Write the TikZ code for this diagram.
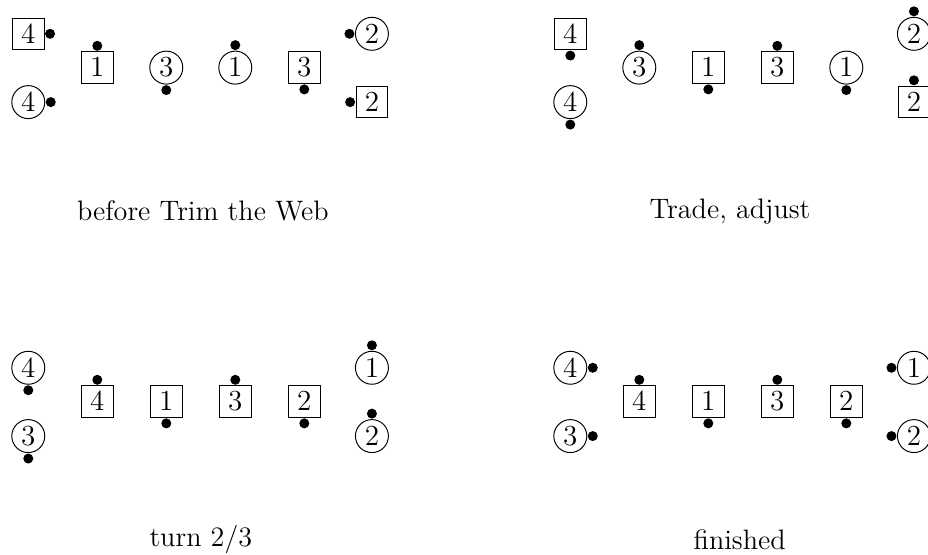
\documentclass[tikz,border=0pt]{standalone}
\usetikzlibrary{positioning}

\begin{document}
\begin{tikzpicture}[
    box/.style={draw, inner sep=0pt, minimum size=0.458cm, font=\fontsize{12.4}{14}\selectfont},
    ring/.style={draw, circle, inner sep=0pt, minimum size=0.478cm, font=\fontsize{12}{14}\selectfont},
    dot/.style={circle, fill, inner sep=0pt, minimum size=0.145cm},
    caption/.style={font=\fontsize{11.6}{14}\selectfont},
    node distance=0pt,
]
    \useasboundingbox (0,0) rectangle (13.449,-8.029);

    % Panel 1: before Trim the Web
    \begin{scope}[shift={(0.41,0)}]
        \node[box] (a4) at (0,-0.49) {$4$};
        \node[ring] (a4r) at (0,-1.48) {$4$};
        \node[box] (a1) at (1,-0.98) {$1$};
        \node[ring] (a3r) at (2,-0.98) {$3$};
        \node[ring] (a1r) at (3,-0.98) {$1$};
        \node[box] (a3) at (4,-0.98) {$3$};
        \node[ring] (a2r) at (4.98,-0.49) {$2$};
        \node[box] (a2) at (4.98,-1.48) {$2$};
        % dots
        \node[dot, right=of a4] (a4d) {};
        \node[dot, right=of a4r] (a4rd) {};
        \node[dot, above=of a1] (a1d) {};
        \node[dot, below=of a3r] (a3rd) {};
        \node[dot, above=of a1r] (a1rd) {};
        \node[dot, below=of a3] (a3d) {};
        \node[dot, left=of a2r] (a2rd) {};
        \node[dot, left=of a2] (a2d) {};
    \end{scope}
    \node[caption] (capa) at (2.94,-3.06) {before Trim the Web};

    % Panel 2: Trade, adjust
    \begin{scope}[shift={(8.265,0)}]
        \node[box] (b4) at (0,-0.49) {$4$};
        \node[ring] (b4r) at (0,-1.48) {$4$};
        \node[ring] (b3r) at (1,-0.98) {$3$};
        \node[box] (b1) at (2,-0.98) {$1$};
        \node[box] (b3) at (3,-0.98) {$3$};
        \node[ring] (b1r) at (4,-0.98) {$1$};
        \node[ring] (b2r) at (4.98,-0.49) {$2$};
        \node[box] (b2) at (4.98,-1.48) {$2$};
        % dots
        \node[dot, below=of b4] (b4d) {};
        \node[dot, below=of b4r] (b4rd) {};
        \node[dot, above=of b3r] (b3rd) {};
        \node[dot, below=of b1] (b1d) {};
        \node[dot, above=of b3] (b3d) {};
        \node[dot, below=of b1r] (b1rd) {};
        \node[dot, above=of b2r] (b2rd) {};
        \node[dot, above=of b2] (b2d) {};
    \end{scope}
    \node[caption] (capb) at (10.58,-3.06) {Trade, adjust};

    % Panel 3: turn 2/3
    \begin{scope}[shift={(0.41,-4.84)}]
        \node[ring] (c4r) at (0,-0.49) {$4$};
        \node[ring] (c3r) at (0,-1.48) {$3$};
        \node[box] (c4) at (1,-0.98) {$4$};
        \node[box] (c1) at (2,-0.98) {$1$};
        \node[box] (c3) at (3,-0.98) {$3$};
        \node[box] (c2) at (4,-0.98) {$2$};
        \node[ring] (c1r) at (4.98,-0.49) {$1$};
        \node[ring] (c2r) at (4.98,-1.48) {$2$};
        % dots
        \node[dot, below=of c4r] (c4rd) {};
        \node[dot, below=of c3r] (c3rd) {};
        \node[dot, above=of c4] (c4d) {};
        \node[dot, below=of c1] (c1d) {};
        \node[dot, above=of c3] (c3d) {};
        \node[dot, below=of c2] (c2d) {};
        \node[dot, above=of c1r] (c1rd) {};
        \node[dot, above=of c2r] (c2rd) {};
    \end{scope}
    \node[caption] (capc) at (2.91,-7.82) {turn 2/3};

    % Panel 4: finished
    \begin{scope}[shift={(8.265,-4.84)}]
        \node[ring] (d4r) at (0,-0.49) {$4$};
        \node[ring] (d3r) at (0,-1.48) {$3$};
        \node[box] (d4) at (1,-0.98) {$4$};
        \node[box] (d1) at (2,-0.98) {$1$};
        \node[box] (d3) at (3,-0.98) {$3$};
        \node[box] (d2) at (4,-0.98) {$2$};
        \node[ring] (d1r) at (4.98,-0.49) {$1$};
        \node[ring] (d2r) at (4.98,-1.48) {$2$};
        % dots
        \node[dot, right=of d4r] (d4rd) {};
        \node[dot, right=of d3r] (d3rd) {};
        \node[dot, above=of d4] (d4d) {};
        \node[dot, below=of d1] (d1d) {};
        \node[dot, above=of d3] (d3d) {};
        \node[dot, below=of d2] (d2d) {};
        \node[dot, left=of d1r] (d1rd) {};
        \node[dot, left=of d2r] (d2rd) {};
    \end{scope}
    \node[caption] (capd) at (10.72,-7.82) {finished};
\end{tikzpicture}
\end{document}
